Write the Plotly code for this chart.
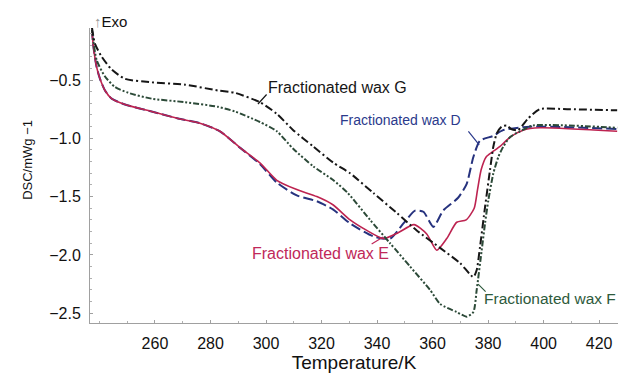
import plotly.graph_objects as go

# ---- data ----
temp_E = [237.3, 237.8, 239.0, 240.2, 242.0, 244.4, 249.2, 258.8, 268.3, 276.2, 283.4, 290.6, 297.8, 303.9,
          311.1, 318.3, 324.1, 330.3, 336.3, 342.3, 347.6, 353.3, 357.9, 361.5, 365.1, 368.7, 372.1, 375.0,
          376.2, 377.5, 379.3, 381.4, 384.3, 387.9, 392.6, 398.7, 426.5]
dsc_E = [-0.07, -0.21, -0.39, -0.49, -0.59, -0.66, -0.71, -0.77, -0.83, -0.87, -0.94, -1.08, -1.21, -1.36,
         -1.44, -1.50, -1.57, -1.70, -1.79, -1.86, -1.81, -1.74, -1.82, -1.96, -1.86, -1.72, -1.70, -1.60,
         -1.44, -1.27, -1.16, -1.12, -1.07, -0.99, -0.93, -0.91, -0.94]

temp_D = [237.3, 237.8, 239.0, 240.2, 242.0, 244.4, 249.2, 258.8, 268.3, 276.2, 283.4, 290.6, 297.8, 303.9,
          311.1, 318.3, 324.1, 330.3, 338.6, 344.7, 349.5, 353.7, 356.7, 360.3, 363.8, 369.2, 372.3, 374.7,
          377.1, 381.8, 385.4, 395.1, 426.5]
dsc_D = [-0.07, -0.21, -0.39, -0.49, -0.59, -0.66, -0.71, -0.77, -0.83, -0.87, -0.94, -1.08, -1.22, -1.38,
         -1.49, -1.54, -1.61, -1.73, -1.84, -1.86, -1.73, -1.62, -1.63, -1.76, -1.62, -1.51, -1.39, -1.16,
         -1.02, -0.98, -0.93, -0.90, -0.92]

temp_F = [237.3, 239.0, 242.0, 245.6, 250.4, 258.8, 270.8, 282.7, 288.8, 297.8, 303.9, 309.8, 317.0, 324.3,
          329.5, 337.5, 344.7, 351.9, 359.1, 362.7, 368.7, 372.3, 374.7, 375.9, 377.7, 378.9, 380.1, 381.9,
          383.7, 385.5, 387.9, 391.5, 396.2, 426.5]
dsc_F = [-0.07, -0.33, -0.47, -0.56, -0.61, -0.66, -0.69, -0.73, -0.77, -0.86, -0.94, -1.09, -1.24, -1.36,
         -1.47, -1.70, -1.90, -2.10, -2.30, -2.42, -2.49, -2.53, -2.49, -2.30, -1.96, -1.73, -1.53, -1.30,
         -1.16, -1.07, -0.99, -0.94, -0.89, -0.91]

temp_G = [237.3, 238.4, 240.8, 244.4, 249.2, 258.8, 270.8, 282.7, 288.8, 297.8, 303.9, 309.8, 317.0, 324.3,
          330.3, 338.7, 347.1, 354.3, 362.7, 369.9, 374.7, 375.9, 377.1, 378.9, 380.7, 381.9, 383.1, 384.9,
          386.7, 388.3, 390.8, 394.4, 398.7, 408.5, 426.5]
dsc_G = [-0.05, -0.19, -0.30, -0.41, -0.49, -0.52, -0.54, -0.59, -0.61, -0.69, -0.79, -0.93, -1.07, -1.21,
         -1.30, -1.47, -1.64, -1.79, -1.94, -2.07, -2.19, -2.13, -1.93, -1.59, -1.27, -1.07, -0.96, -0.90,
         -0.89, -0.92, -0.93, -0.83, -0.75, -0.75, -0.76]

x_ticks = [260, 280, 300, 320, 340, 360, 380, 400, 420]
y_ticks = [-2.5, -2.0, -1.5, -1.0, -0.5]
y_ticktext = ["\u22122.5", "\u22122.0", "\u22121.5", "\u22121.0", "\u22120.5"]

series_names = ["Fractionated wax D", "Fractionated wax E", "Fractionated wax F", "Fractionated wax G"]

# ---- styles ----
col_D = "#26327e"
col_E = "#bd2350"
col_F = "#2c4a38"
col_G = "#161616"
font_family = "Liberation Sans, Arial, sans-serif"

fig = go.Figure()
fig.add_trace(go.Scatter(x=temp_D, y=dsc_D, mode="lines", name=series_names[0],
                         line=dict(color=col_D, width=2, dash="10px,4px", shape="spline", smoothing=0.6)))
fig.add_trace(go.Scatter(x=temp_E, y=dsc_E, mode="lines", name=series_names[1],
                         line=dict(color=col_E, width=1.6, shape="spline", smoothing=0.6)))
fig.add_trace(go.Scatter(x=temp_F, y=dsc_F, mode="lines", name=series_names[2],
                         line=dict(color=col_F, width=2, dash="6px,2px,2px,2px,2px,2px", shape="spline", smoothing=0.6)))
fig.add_trace(go.Scatter(x=temp_G, y=dsc_G, mode="lines", name=series_names[3],
                         line=dict(color=col_G, width=2, dash="8px,3px,2px,3px", shape="spline", smoothing=0.6)))

# series labels with leader lines
labels = [
    (series_names[3], 325.6, -0.56, col_G, 16, 297.1, -0.706, 10, -11),
    (series_names[0], 348.6, -0.843, "#2b3a8c", 14, 376.8, -1.057, -12, -15),
    (series_names[1], 319.8, -1.992, "#c0285a", 16, 342.2, -1.846, -13, 8),
    (series_names[2], 402.3, -2.378, "#2e5a3c", 15.5, 376.4, -2.25, 9, 9),
]
for text, tx, ty, c, fs, px, py, ax, ay in labels:
    fig.add_annotation(x=tx, y=ty, text=text, showarrow=False,
                       font=dict(family=font_family, size=fs, color=c))
    fig.add_annotation(x=px, y=py, text="", showarrow=True, arrowhead=0,
                       arrowwidth=1.2, arrowcolor=c, ax=ax, ay=ay)

fig.add_annotation(xref="paper", yref="paper", x=0, y=1, xanchor="left", yanchor="bottom",
                   xshift=2, yshift=-4,
                   text="<span style='color:#999'>\u2191</span>Exo", showarrow=False,
                   font=dict(family=font_family, size=15, color="#111"))

fig.add_annotation(xref="paper", yref="paper", x=0, y=0.553, xanchor="center", yanchor="middle",
                   xshift=-62, textangle=-90, text="DSC/mWg \u22121", showarrow=False,
                   font=dict(family=font_family, size=13, color="#111"))

fig.update_xaxes(range=[236.6, 426.8], tickvals=x_ticks, showline=True, linecolor="#a0a0a0", linewidth=1,
                 ticks="inside", ticklen=3, tickcolor="#a0a0a0", showgrid=False, zeroline=False,
                 mirror=False, ticklabelstandoff=6,
                 tickfont=dict(family=font_family, size=16, color="#111"),
                 minor=dict(dtick=10, ticks="inside", ticklen=2, tickcolor="#b0b0b0"),
                 title=dict(text="Temperature/K", font=dict(family=font_family, size=19, color="#111"),
                            standoff=4))
fig.update_yaxes(range=[-2.584, -0.054], tickvals=y_ticks, ticktext=y_ticktext, showline=True,
                 linecolor="#a0a0a0", linewidth=1, ticks="inside", ticklen=3, tickcolor="#a0a0a0",
                 showgrid=False, zeroline=False, ticklabelstandoff=5,
                 tickfont=dict(family=font_family, size=16, color="#111"),
                 minor=dict(dtick=0.1, ticks="inside", ticklen=2, tickcolor="#b0b0b0"))

fig.update_layout(width=626, height=377, margin=dict(l=90, r=8, t=28, b=54),
                  paper_bgcolor="white", plot_bgcolor="white", showlegend=False)

fig.write_html("out.html")
